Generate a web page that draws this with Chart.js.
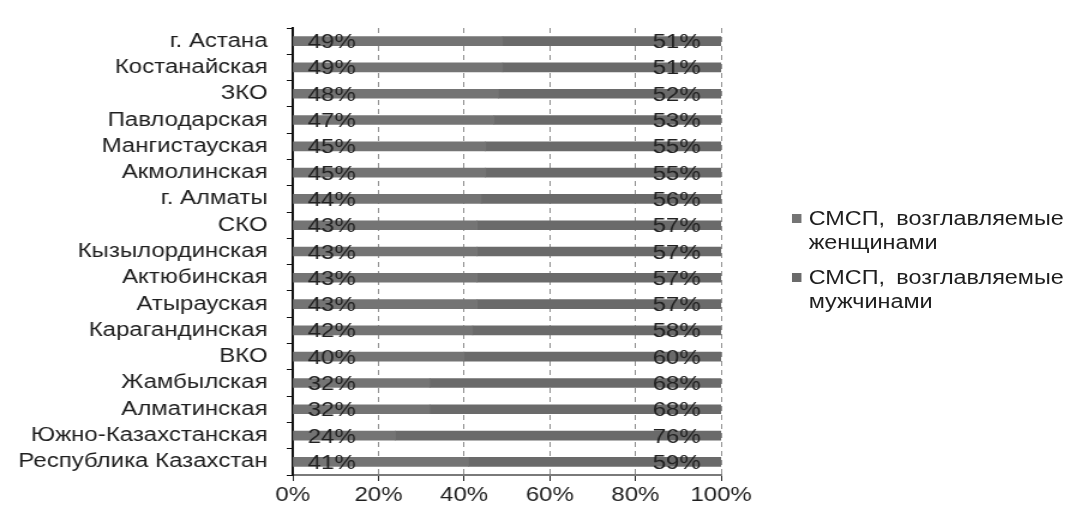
<!DOCTYPE html>
<html lang="ru">
<head>
<meta charset="utf-8">
<title>СМСП по полу руководителя</title>
<script src="https://cdn.jsdelivr.net/npm/chart.js@4.4.1/dist/chart.umd.min.js"></script>
<style>
  html, body { margin: 0; padding: 0; background: #fff; overflow: hidden; }
  /* the figure is laid out on an 891px-wide stage and widened to the full page */
  #stage {
    position: absolute; left: 0; top: 0;
    width: 891px; height: 507px;
    transform: scaleX(1.19978); transform-origin: 0 0;
  }
  #chart { position: absolute; left: 0; top: 0; }
  #legend {
    position: absolute; left: 660px; top: 206px;
    font: 19.5px "Liberation Sans", Arial, sans-serif; color: #1e1e1e;
    line-height: 24px; white-space: nowrap; word-spacing: 4px;
  }
  #legend .item { position: relative; padding-left: 14px; margin-bottom: 11px; }
  #legend .box { position: absolute; left: 0; top: 8px; width: 8px; height: 9px; }
</style>
</head>
<body>
<div id="stage">
  <canvas id="chart" width="891" height="507"></canvas>
  <div id="legend"></div>
</div>
<script>
// Regions, listed top to bottom
const regions = [
  'г. Астана', 'Костанайская', 'ЗКО', 'Павлодарская', 'Мангистауская',
  'Акмолинская', 'г. Алматы', 'СКО', 'Кызылординская', 'Актюбинская',
  'Атырауская', 'Карагандинская', 'ВКО', 'Жамбылская', 'Алматинская',
  'Южно-Казахстанская', 'Республика Казахстан'
];
// Share of SMEs headed by women, %
const womenShare = [49, 49, 48, 47, 45, 45, 44, 43, 43, 43, 43, 42, 40, 32, 32, 24, 41];
// Share of SMEs headed by men, %
const menShare = [51, 51, 52, 53, 55, 55, 56, 57, 57, 57, 57, 58, 60, 68, 68, 76, 59];
// Percentage axis ticks
const percentTicks = [0, 20, 40, 60, 80, 100];

const seriesNames = ['СМСП, возглавляемые женщинами', 'СМСП, возглавляемые мужчинами'];
const seriesColors = ['#747474', '#6a6a6a'];

const FONT = '"Liberation Sans", Arial, sans-serif';
Chart.defaults.font.family = FONT;
Chart.defaults.font.size = 20;
Chart.defaults.color = '#1e1e1e';

// Value labels: women's share at the start of each bar, men's share at its end
const barValueLabels = {
  id: 'barValueLabels',
  afterDatasetsDraw(chart) {
    const { ctx, scales: { x } } = chart;
    ctx.save();
    ctx.font = '20px ' + FONT;
    ctx.fillStyle = '#222';
    ctx.textBaseline = 'middle';
    chart.data.datasets.forEach((ds, di) => {
      const meta = chart.getDatasetMeta(di);
      meta.data.forEach((bar, i) => {
        const text = ds.data[i] + '%';
        if (di === 0) {
          ctx.textAlign = 'left';
          ctx.fillText(text, x.getPixelForValue(0) + 12.5, bar.y + 1.5);
        } else {
          ctx.textAlign = 'right';
          ctx.fillText(text, x.getPixelForValue(100) - 17, bar.y + 1.5);
        }
      });
    });
    ctx.restore();
  }
};

const chart = new Chart(document.getElementById('chart'), {
  type: 'bar',
  data: {
    labels: regions,
    datasets: [
      { label: seriesNames[0], data: womenShare, backgroundColor: seriesColors[0], barThickness: 9 },
      { label: seriesNames[1], data: menShare, backgroundColor: seriesColors[1], barThickness: 9 }
    ]
  },
  options: {
    indexAxis: 'y',
    responsive: false,
    animation: false,
    layout: { padding: { top: 14, right: 290, bottom: 0, left: 0 } },
    plugins: { legend: { display: false }, tooltip: { enabled: false } },
    scales: {
      x: {
        stacked: true,
        min: 0, max: 100,
        afterBuildTicks: (s) => { s.ticks = percentTicks.map(v => ({ value: v })); },
        afterFit: (s) => { s.height = 32; },
        ticks: { callback: (v) => v + '%', padding: 2, color: '#1e1e1e', maxRotation: 0 },
        grid: {
          color: (c) => (c.tick && c.tick.value === 0) ? 'rgba(0,0,0,0)' : '#8e8e8e',
          lineWidth: 1,
          tickColor: '#222',
          tickLength: 6
        },
        border: { color: '#7a7a7a', width: 2, dash: [5, 4] }
      },
      y: {
        stacked: true,
        afterFit: (s) => { s.width = 244; },
        ticks: { padding: 16, color: '#1e1e1e', autoSkip: false },
        grid: { drawOnChartArea: false, offset: true, tickColor: '#111', tickLength: 5 },
        border: { color: '#111', width: 2 }
      }
    }
  },
  plugins: [barValueLabels]
});

// Legend built from the dataset names, each split before its last word
const legendEl = document.getElementById('legend');
chart.data.datasets.forEach((ds) => {
  const item = document.createElement('div');
  item.className = 'item';
  const box = document.createElement('span');
  box.className = 'box';
  box.style.background = ds.backgroundColor;
  item.appendChild(box);
  const cut = ds.label.lastIndexOf(' ');
  item.appendChild(document.createTextNode(ds.label.slice(0, cut)));
  item.appendChild(document.createElement('br'));
  item.appendChild(document.createTextNode(ds.label.slice(cut + 1)));
  legendEl.appendChild(item);
});
</script>
</body>
</html>
